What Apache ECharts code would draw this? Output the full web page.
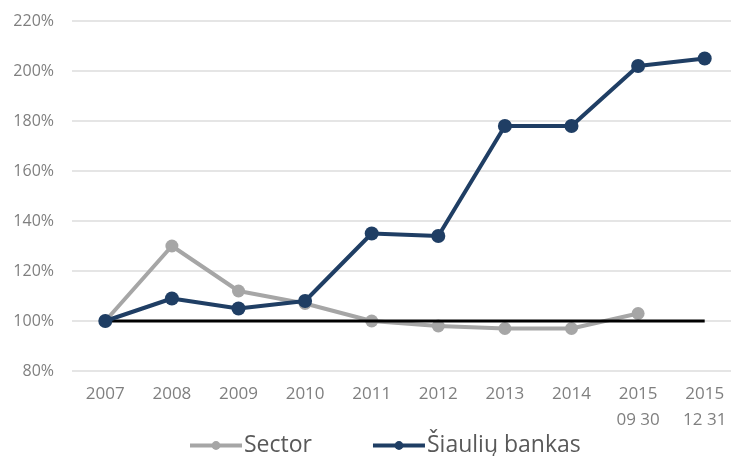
<!DOCTYPE html>
<html>
<head>
<meta charset="utf-8">
<script src="https://cdn.jsdelivr.net/npm/echarts@6/dist/echarts.min.js"></script>
<style>
  html, body { margin: 0; padding: 0; background: #ffffff; }
  #chart { width: 731px; height: 456px; }
</style>
</head>
<body>
<div id="chart"></div>
<script>
// categories and values
var categories = ['2007', '2008', '2009', '2010', '2011', '2012', '2013', '2014', '2015\n09 30', '2015\n12 31'];
var sectorValues = [100, 130, 112, 107, 100, 98, 97, 97, 103];
var bankValues = [100, 109, 105, 108, 135, 134, 178, 178, 202, 205];
var baseValues = [100, 100, 100, 100, 100, 100, 100, 100, 100, 100];
var yTicks = { min: 80, max: 220, step: 20 };

var myChart = echarts.init(document.getElementById('chart'));

myChart.setOption({
    backgroundColor: '#ffffff',
    animation: false,
    textStyle: { fontFamily: 'Open Sans' },
    grid: { left: 72, width: 666, top: 21, height: 350, outerBoundsMode: 'none', containLabel: false },
    legend: {
        data: ['Sector', 'Šiaulių bankas'],
        top: 429,
        left: 183,
        itemGap: 59,
        itemWidth: 52,
        itemHeight: 11,
        lineStyle: { width: 4 },
        textStyle: { fontSize: 23, color: '#595959', fontFamily: 'Open Sans', padding: [0, 0, 0, -3] }
    },
    xAxis: {
        type: 'category',
        data: categories,
        boundaryGap: true,
        axisLine: { show: false },
        axisTick: { show: false },
        axisLabel: { color: '#7f7f7f', fontSize: 17, margin: 10, lineHeight: 26, fontFamily: 'Open Sans' }
    },
    yAxis: {
        type: 'value',
        min: yTicks.min,
        max: yTicks.max,
        interval: yTicks.step,
        axisLine: { show: false },
        axisTick: { show: false },
        axisLabel: {
            color: '#7f7f7f', fontSize: 16, margin: 18, fontFamily: 'Open Sans',
            formatter: function (v) { return v + '%'; }
        },
        splitLine: { lineStyle: { color: '#dcdcdc', width: 1.5 } }
    },
    series: [
        {
            name: 'Sector',
            type: 'line',
            data: sectorValues,
            symbol: 'circle',
            symbolSize: 13,
            z: 2,
            itemStyle: { color: '#a6a6a6' },
            lineStyle: { color: '#a6a6a6', width: 4 }
        },
        {
            name: 'base',
            type: 'line',
            data: baseValues,
            symbol: 'none',
            z: 3,
            lineStyle: { color: '#000000', width: 3 }
        },
        {
            name: 'Šiaulių bankas',
            type: 'line',
            data: bankValues,
            symbol: 'circle',
            symbolSize: 14,
            z: 4,
            itemStyle: { color: '#1f3e64' },
            lineStyle: { color: '#1f3e64', width: 4 }
        }
    ]
});
</script>
</body>
</html>
